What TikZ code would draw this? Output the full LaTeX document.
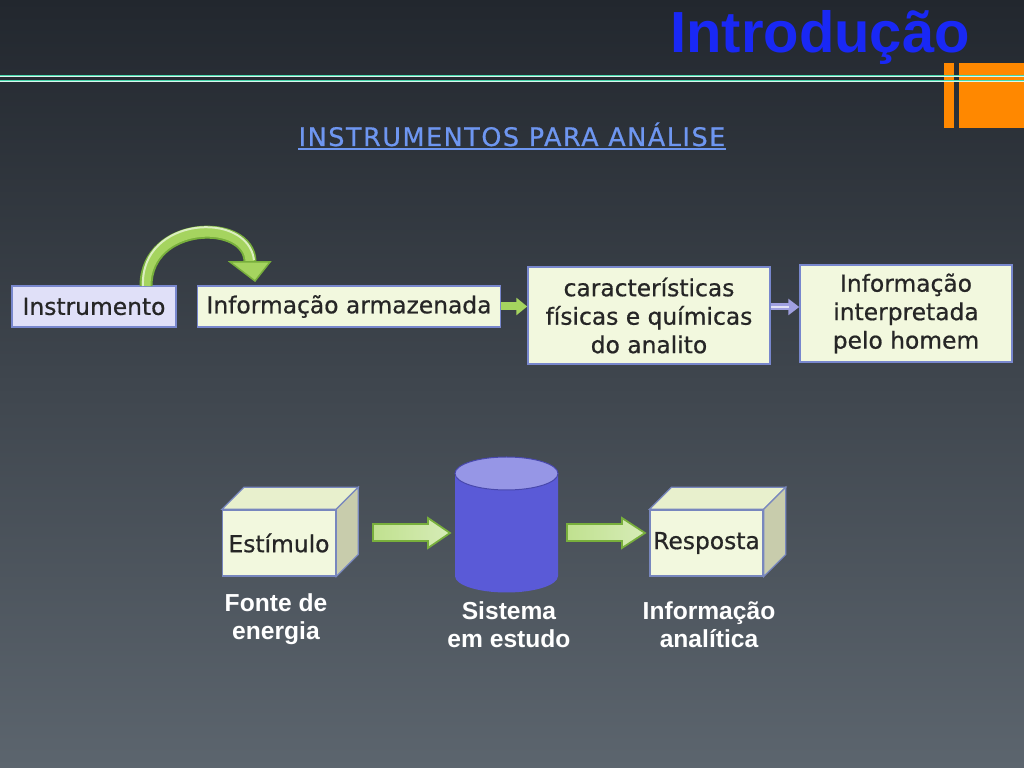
\documentclass[tikz,border=0pt]{standalone}
\usepackage{fontspec}
\setmainfont{Liberation Sans}
\newfontfamily\comicf[FakeBold=0.7]{DejaVu Sans}
\newfontfamily\comicsp[LetterSpace=6,FakeBold=0.7]{DejaVu Sans}
\usetikzlibrary{arrows.meta}
\definecolor{bgtop}{RGB}{34,39,46}
\definecolor{bgbot}{RGB}{92,101,110}
\definecolor{titleblue}{RGB}{25,40,245}
\definecolor{tealline}{RGB}{70,215,170}
\definecolor{orng}{RGB}{255,136,0}
\definecolor{subblue}{RGB}{110,150,240}
\definecolor{lavfill}{RGB}{224,224,248}
\definecolor{grnfill}{RGB}{242,248,222}
\definecolor{boxborder}{RGB}{120,135,205}
\definecolor{arrgreen}{RGB}{165,212,95}
\definecolor{arrdark}{RGB}{120,175,60}
\definecolor{arrlav}{RGB}{160,160,225}
\definecolor{cylbody}{RGB}{90,90,215}
\definecolor{cyltop}{RGB}{150,150,230}
\definecolor{cubetop}{RGB}{232,240,205}
\definecolor{cubeside}{RGB}{200,204,172}
\definecolor{cubeedge}{RGB}{120,135,190}
\begin{document}
\begin{tikzpicture}[x=0.2mm,y=-0.2mm,
  txtbox/.style={draw=boxborder, line width=0.3mm, inner sep=0pt, align=center,
     font=\comicf\fontsize{13.3pt}{16.2pt}\selectfont, text=black!85},
  lavbox/.style={txtbox, fill=lavfill},
  grnbox/.style={txtbox, fill=grnfill},
  cubefront/.style={draw=cubeedge, line width=0.25mm, fill=grnfill, inner sep=0pt,
     minimum width={113*0.2mm}, minimum height={66*0.2mm},
     font=\comicf\fontsize{13.3pt}{16.2pt}\selectfont, text=black!85},
  cubeface/.style={draw=cubeedge, line width=0.25mm},
  label/.style={text=white, align=center, font=\bfseries\fontsize{14pt}{16.5pt}\selectfont},
  blockarr/.style={draw=arrdark, line width=0.35mm, left color=arrgreen!70!white, right color=arrgreen!45!white}
]
% background
\shade[top color=bgtop, bottom color=bgbot] (0,0) rectangle (1024,768);
\path[use as bounding box] (0,0) rectangle (1024,768);

% title
\node[anchor=base, text=titleblue, font=\bfseries\fontsize{33pt}{36pt}\selectfont] (title) at (820,53) {Introdução};

% header lines and orange blocks
\fill[orng] (944,63) rectangle (954,128);
\fill[orng] (959,63) rectangle (1024,128);
\draw[tealline, line width=0.5mm] (0,76) -- (1024,76);
\draw[tealline, line width=0.5mm] (0,81) -- (1024,81);
\draw[white!80!tealline, line width=0.15mm] (0,76) -- (1024,76);
\draw[white!80!tealline, line width=0.15mm] (0,81) -- (1024,81);

% subtitle
\node[anchor=base, text=subblue, font=\comicsp\fontsize{14.5pt}{16pt}\selectfont, inner sep=0pt] (sub) at (512,146) {INSTRUMENTOS PARA ANÁLISE};
\draw[subblue, line width=0.35mm] ([yshift=-0.6mm]sub.base west) -- ([yshift=-0.6mm]sub.base east);

% top row boxes
\node[lavbox, minimum width={164*0.2mm}, minimum height={41*0.2mm}] (instr) at (94,306.5) {Instrumento};
\node[grnbox, minimum width={303*0.2mm}, minimum height={41*0.2mm}] (infarm) at (349,306.5) {Informação armazenada};
\node[grnbox, minimum width={242*0.2mm}, minimum height={97*0.2mm}] (carac) at (649,315.5) {características\\físicas e químicas\\do analito};
\node[grnbox, minimum width={212*0.2mm}, minimum height={97*0.2mm}] (interp) at (906,313.5) {Informação\\interpretada\\pelo homem};

% small arrows
\draw[arrgreen, line width=1.6mm, -{Triangle[length=2.2mm,width=3.4mm]}] (infarm.east) -- (carac.west |- infarm.east);
\draw[arrlav, line width=1.4mm, -{Triangle[length=2.2mm,width=3.2mm]}] (carac.east |- 0,307) -- (interp.west |- 0,307);
\draw[white!70!arrlav, line width=0.35mm, shorten >=2mm] (carac.east |- 0,307) -- (interp.west |- 0,307);

% curved arrow
\coordinate (cstart) at (146,286);
\coordinate (cend) at (250,262);
\draw[arrdark, line width=2.6mm] (cstart) .. controls (146,220) and (250,218) .. (cend);
\draw[arrgreen, line width=1.8mm] (cstart) .. controls (146,220) and (250,218) .. (cend);
\draw[white!60!arrgreen, line width=0.4mm] ([xshift=-0.6mm]cstart) .. controls (140,216) and (248,210) .. ([xshift=0.8mm,yshift=0.4mm]cend);
\filldraw[fill=arrgreen, draw=arrdark, line width=0.3mm] (230,262) -- (270,262) -- (255,281) -- cycle;

% lower: Estimulo cube
\node[cubefront] (estim) at (279,543) {Estímulo};
\filldraw[cubeface, fill=cubetop] (estim.north west) -- ++(22,-22) -- ([shift={(22,-22)}]estim.north east) -- (estim.north east) -- cycle;
\filldraw[cubeface, fill=cubeside] (estim.north east) -- ++(22,-22) -- ([shift={(22,-22)}]estim.south east) -- (estim.south east) -- cycle;

% cylinder
\coordinate (cylc) at (506.5,525);
\fill[cylbody] (455,473.5) -- (455,576) arc[start angle=180, end angle=0, x radius=51.5, y radius=16.5] -- (558,473.5) -- cycle;
\filldraw[fill=cyltop, draw=cylbody!80!black, line width=0.2mm] (506.5,473.5) ellipse[x radius=51.5, y radius=16.5];

% block arrows
\filldraw[blockarr] (373,524) -- (428,524) -- (428,518) -- (450,533) -- (428,548) -- (428,541) -- (373,541) -- cycle;
\filldraw[blockarr] (567,524) -- (622,524) -- (622,518) -- (645,533) -- (622,548) -- (622,541) -- (567,541) -- cycle;

% Resposta cube
\node[cubefront] (resp) at (706.5,543) {Resposta};
\filldraw[cubeface, fill=cubetop] (resp.north west) -- ++(22,-22) -- ([shift={(22,-22)}]resp.north east) -- (resp.north east) -- cycle;
\filldraw[cubeface, fill=cubeside] (resp.north east) -- ++(22,-22) -- ([shift={(22,-22)}]resp.south east) -- (resp.south east) -- cycle;

% labels
\node[label, anchor=base] (lab1) at (276,640) {Fonte de\\energia};
\node[label, anchor=base] (lab2) at (509,648) {Sistema\\em estudo};
\node[label, anchor=base] (lab3) at (709,648) {Informação\\analítica};
\end{tikzpicture}
\end{document}
